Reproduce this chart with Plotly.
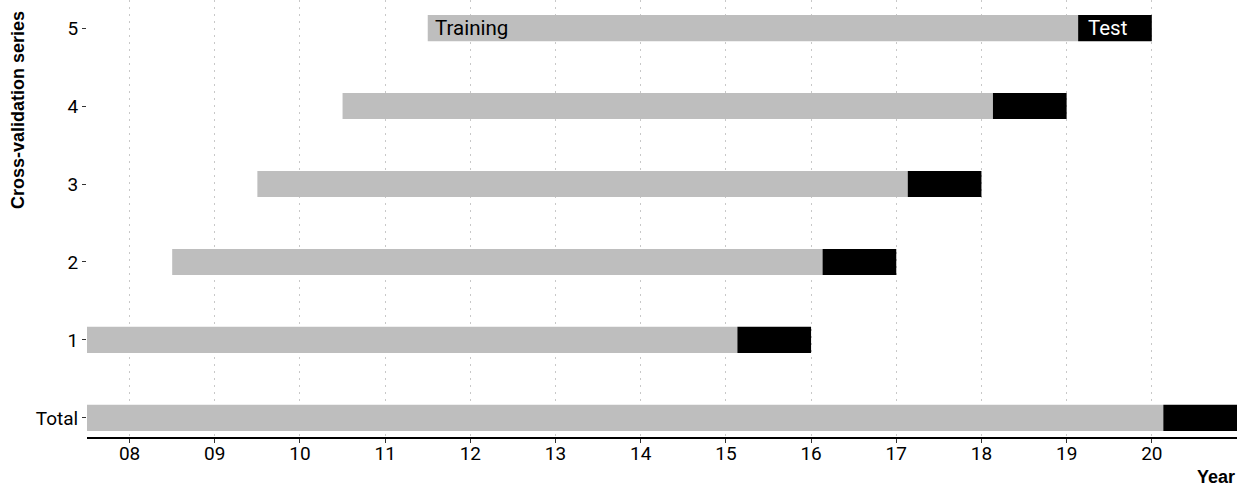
import plotly.graph_objects as go

# Data (decimal years, 08 = 2008)
series_labels = ["Total", "1", "2", "3", "4", "5"]
train_start = [7.5, 7.5, 8.5, 9.5, 10.5, 11.5]
test_start = [20.135, 15.135, 16.135, 17.135, 18.135, 19.135]
test_end = [21.0, 16.0, 17.0, 18.0, 19.0, 20.0]
year_ticks = [8, 9, 10, 11, 12, 13, 14, 15, 16, 17, 18, 19, 20]
year_labels = ["08", "09", "10", "11", "12", "13", "14", "15", "16", "17", "18", "19", "20"]

ypos = list(range(len(series_labels)))
FONT = "Roboto"
TITLE_FONT = "Liberation Sans"

fig = go.Figure()
fig.add_trace(go.Bar(
    y=ypos, x=[e - s for s, e in zip(train_start, test_start)], base=train_start,
    orientation="h", width=0.335, marker=dict(color="#BEBEBE", line=dict(width=0)),
    showlegend=False, hoverinfo="skip"))
fig.add_trace(go.Bar(
    y=ypos, x=[e - s for s, e in zip(test_start, test_end)], base=test_start,
    orientation="h", width=0.335, marker=dict(color="#000000", line=dict(width=0)),
    showlegend=False, hoverinfo="skip"))

# Labels on the last series
fig.add_annotation(x=train_start[-1], y=ypos[-1], text="Training", showarrow=False,
                   xanchor="left", yanchor="middle", xshift=5,
                   font=dict(family=FONT, size=20.5, color="#000000"))
fig.add_annotation(x=test_start[-1], y=ypos[-1], text="Test", showarrow=False,
                   xanchor="left", yanchor="middle", xshift=8,
                   font=dict(family=FONT, size=20.5, color="#FFFFFF"))

fig.update_layout(
    width=1245, height=488,
    margin=dict(l=87, r=8, t=0, b=51),
    plot_bgcolor="white", paper_bgcolor="white",
    barmode="overlay",
    font=dict(family=FONT, size=19, color="#000000"),
    xaxis=dict(range=[7.5, 21.0], tickvals=year_ticks, ticktext=year_labels,
               showgrid=True, gridcolor="#C8C8C8", griddash="2px,5px", gridwidth=1,
               showline=True, linecolor="#000000", linewidth=2,
               ticks="outside", ticklen=4, tickcolor="#333333",
               ticklabelstandoff=-6,
               zeroline=False, tickfont=dict(family=FONT, size=19)),
    yaxis=dict(range=[-0.245, 5.36], tickvals=ypos, ticktext=series_labels,
               showgrid=False, showline=False, zeroline=False,
               ticks="outside", ticklen=4, tickcolor="#333333",
               tickfont=dict(family=FONT, size=19)),
)
fig.add_annotation(xref="paper", yref="paper", x=1.0, y=0, yshift=-40,
                   text="<b>Year</b>", showarrow=False, xanchor="right", yanchor="middle",
                   font=dict(family=TITLE_FONT, size=18, color="#000000"))
fig.add_annotation(xref="paper", yref="paper", x=0, xshift=-69, y=1.0, yshift=-110,
                   text="<b>Cross-validation series</b>", showarrow=False, textangle=-90,
                   xanchor="center", yanchor="middle",
                   font=dict(family=TITLE_FONT, size=18, color="#000000"))

fig.write_html("out.html", config={"displayModeBar": False},
               post_script="document.body.style.margin='0';")
